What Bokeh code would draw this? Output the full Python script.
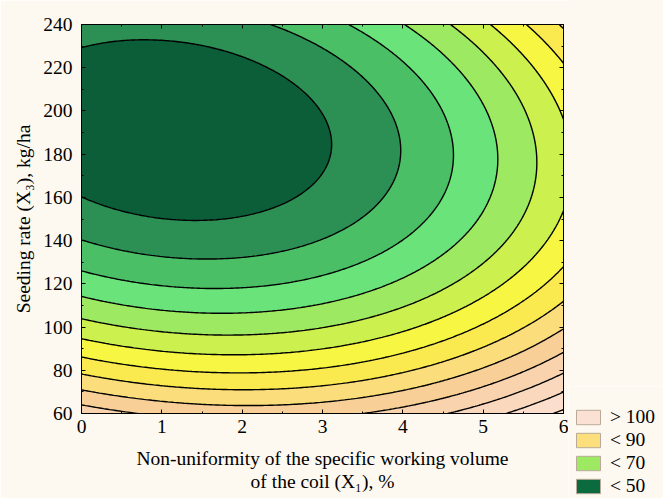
import numpy as np
from bokeh.plotting import figure
from bokeh.layouts import row, column
from bokeh.models import (LinearAxis, Legend, LegendItem, Range1d, FixedTicker,
                          Spacer)
from bokeh.embed import file_html
from bokeh.resources import INLINE

# ---- data: second-order response surface Y(X1, X3), coefficients
coef_b0 = 153.96
coef_b1 = -6.247      # X1
coef_b3 = -1.1023     # X3
coef_b11 = 1.2206     # X1^2
coef_b33 = 0.00283    # X3^2
coef_b13 = 0.01862    # X1*X3

x1_limits = [0, 6]
x3_limits = [60, 240]
contour_levels = [50, 55, 60, 65, 70, 75, 80, 85, 90, 95, 100, 105, 110]
band_colors = ["#0b5e37", "#2c8f53", "#4bbf66", "#6be37b", "#9ee962", "#ccf04e",
               "#f7f743", "#fae94f", "#fcdd7b", "#f8cf97", "#f8d3ae", "#f9d8be",
               "#fbdecb", "#fce4d6"]
x_ticks = [0, 1, 2, 3, 4, 5, 6]
y_ticks = [60, 80, 100, 120, 140, 160, 180, 200, 220, 240]
legend_labels = ["> 100", "< 90", "< 70", "< 50"]
legend_colors = ["#fbe0d4", "#fcdf7c", "#9ee962", "#0b6a3e"]

x_title = "Non-uniformity of the specific working volume\nof the coil (X\u2081), %"
y_title = "Seeding rate (X\u2083), kg/ha"

FONT = "Liberation Serif"
FS = "19.5px"
BG = "#fdf9f0"

# ---- surface on a grid
gx = np.linspace(x1_limits[0], x1_limits[1], 241)
gz = np.linspace(x3_limits[0], x3_limits[1], 241)
X, Z = np.meshgrid(gx, gz)
Y = (coef_b0 + coef_b1 * X + coef_b3 * Z + coef_b11 * X ** 2
     + coef_b33 * Z ** 2 + coef_b13 * X * Z)
lv = [float(Y.min()) - 1.0] + contour_levels + [float(Y.max()) + 1.0]

p = figure(width=568, height=498, output_backend="svg",
           toolbar_location=None,
           x_range=Range1d(*x1_limits), y_range=Range1d(*x3_limits),
           min_border_left=81, min_border_top=24, min_border_right=5,
           min_border_bottom=85, border_fill_color=BG,
           background_fill_color=BG, outline_line_color="black",
           outline_line_width=1)
p.grid.visible = False

p.contour(X, Z, Y, lv, fill_color=band_colors, line_color="black",
          line_width=1.4)

minor_x = [v / 2 for v in range(0, 13)]
minor_y = list(range(60, 241, 10))

def style_axis(ax, ticks, minor, show_labels):
    ax.ticker = FixedTicker(ticks=ticks, minor_ticks=minor)
    ax.major_tick_in = 4
    ax.major_tick_out = 0
    ax.minor_tick_in = 2
    ax.minor_tick_out = 0
    ax.axis_line_color = "black"
    ax.major_tick_line_color = "black"
    ax.minor_tick_line_color = "black"
    ax.major_label_text_font = FONT
    ax.axis_label_text_font = FONT
    ax.axis_label_text_font_size = FS
    ax.axis_label_text_font_style = "normal"
    ax.axis_label_text_color = "black"
    if show_labels:
        ax.major_label_text_font_size = FS
        ax.major_label_text_color = "black"
    else:
        ax.major_label_text_font_size = "1px"
        ax.major_label_text_color = None
        ax.major_label_standoff = 0

style_axis(p.xaxis[0], x_ticks, minor_x, True)
style_axis(p.yaxis[0], y_ticks, minor_y, True)
p.xaxis[0].axis_label = x_title
p.yaxis[0].axis_label = y_title
p.xaxis[0].major_label_standoff = 6
p.yaxis[0].major_label_standoff = 9
p.xaxis[0].axis_label_standoff = 12
p.xaxis[0].axis_label_text_line_height = 1.12
p.yaxis[0].axis_label_standoff = 6

top_ax = LinearAxis()
right_ax = LinearAxis()
style_axis(top_ax, x_ticks, minor_x, False)
style_axis(right_ax, y_ticks, minor_y, False)
p.add_layout(top_ax, "above")
p.add_layout(right_ax, "right")

# ---- legend panel at the bottom right, next to the plot
LG_H = 112
lg = figure(width=95, height=LG_H, output_backend="svg", toolbar_location=None,
            x_range=Range1d(0, 1), y_range=Range1d(0, 1),
            x_axis_type=None, y_axis_type=None,
            min_border_left=0, min_border_right=0, min_border_top=0,
            min_border_bottom=0, outline_line_color=None,
            border_fill_color=BG, background_fill_color=BG)
lg.grid.visible = False

items = []
for lab, col in zip(legend_labels, legend_colors):
    # one swatch per class, placed outside the visible range (legend only)
    r = lg.quad(left=[5], right=[6], top=[6], bottom=[5], fill_color=col,
                line_color="#b8aa98", line_width=1)
    items.append(LegendItem(label=lab, renderers=[r]))

leg = Legend(items=items, location=(5, 1), orientation="vertical",
             glyph_width=30, glyph_height=18, label_standoff=7, spacing=1,
             padding=0, margin=0, border_line_color=None,
             background_fill_alpha=0, label_text_font=FONT,
             label_text_font_size=FS, label_text_color="black")
lg.add_layout(leg, "center")

side = column(Spacer(width=95, height=498 - LG_H, styles={"background": BG}),
              lg, spacing=0)
layout = row(p, side, spacing=0)
open("out.html", "w").write(file_html(layout, INLINE))
